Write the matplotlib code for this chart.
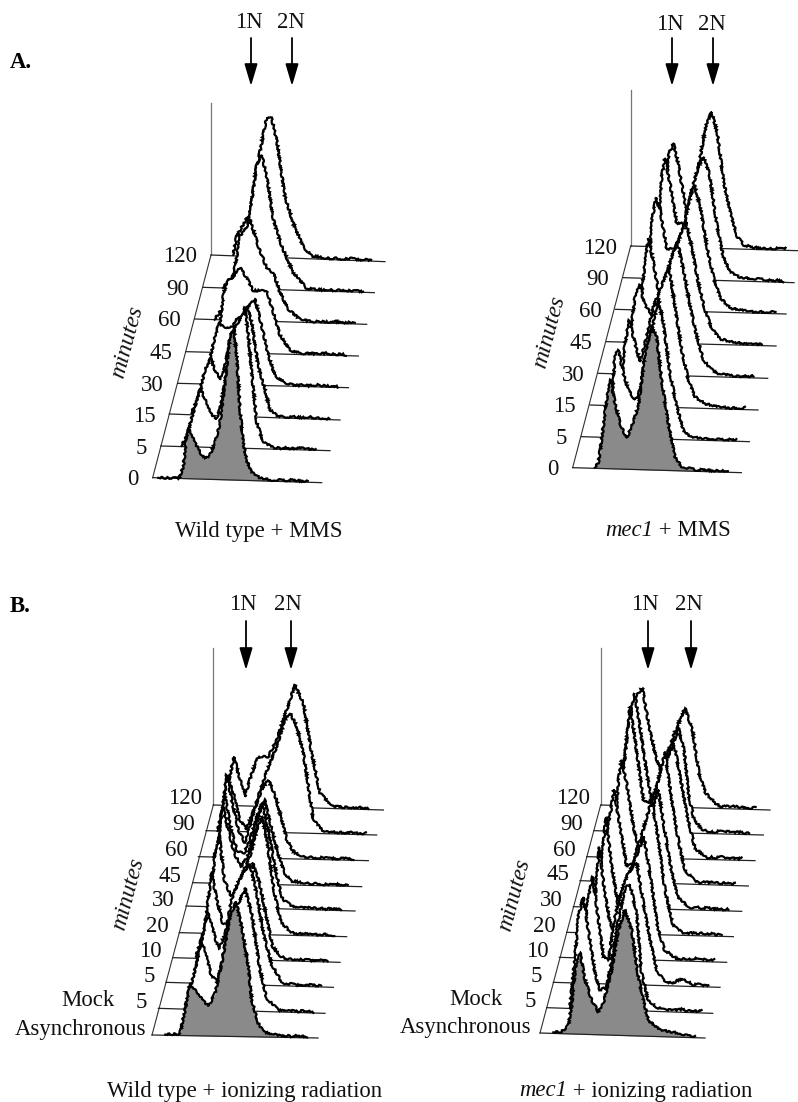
import matplotlib
matplotlib.use("Agg")
import numpy as np
import matplotlib.pyplot as plt

plt.rcParams['font.family'] = ['Liberation Serif', 'DejaVu Serif']

# ---------- data: channel / count for each histogram, front (first) to back (last) ----------
mms_minutes = ['0', '5', '15', '30', '45', '60', '90', '120']
ir_minutes = ['Asynchronous', '5', '5', '10', '20', '30', '45', '60', '90', '120']

wt_mms_ch = [
    [17,80,92,102,107,122,137,157,172,187,202,217,232,244,252,262,272,282,297,320,352],
    [63,78,103,120,133,148,166,178,193,208,223,243,253,263,273,288,308,338],
    [67,87,107,125,137,152,162,177,197,222,234,247,267,287,302,327],
    [77,92,112,125,137,157,182,202,232,252,272,292,322],
    [82,97,112,122,142,162,182,202,227,244,262,282,312],
    [60,100,116,136,151,166,191,216,236,256,281,316],
    [60,100,125,141,161,176,191,211,236,271,311],
    [67,77,117,142,167,182,197,222,247,277,302],
]
wt_mms_ct = [
    [0,1,36,127,152,118,88,59,75,110,171,291,432,452,373,212,112,60,25,10,4],
    [2,31,122,178,143,104,84,115,195,306,361,397,422,338,228,79,20,5],
    [5,55,136,172,137,108,128,200,290,300,331,281,152,82,23,4],
    [3,53,144,185,173,171,177,222,259,179,90,30,10],
    [3,49,170,215,225,256,226,188,189,184,124,56,12],
    [0,60,131,252,272,303,224,160,145,87,38,9],
    [0,50,150,227,373,403,339,210,131,52,7],
    [3,60,131,290,420,417,352,183,104,35,9],
]

mec1_mms_ch = [
    [67,77,87,102,114,127,142,162,177,197,217,237,252,267,287,307,327,372],
    [85,90,100,111,126,141,161,176,196,216,231,246,266,286,306,326,376],
    [90,100,105,118,130,150,170,190,237,255,275,295,315,345,390],
    [90,100,110,125,137,165,180,200,220,237,255,275,295,315,335,360,410],
    [95,100,110,125,137,155,175,195,215,237,255,275,295,315,340,380,430],
    [85,100,110,122,135,155,184,205,225,237,255,275,295,315,345,400],
    [90,105,115,125,140,160,185,205,225,240,258,280,300,320,350,420],
    [90,105,115,128,140,160,168,185,205,225,243,260,280,300,320,340,370,420],
]
mec1_mms_ct = [
    [2,16,87,208,267,197,137,93,129,189,349,430,400,270,141,42,13,4],
    [5,60,243,263,194,144,115,145,246,346,422,347,198,100,29,9,5],
    [5,138,188,258,208,134,210,300,422,302,173,85,34,14,5],
    [5,153,233,269,214,175,215,285,355,402,320,211,121,51,25,10,4],
    [5,65,198,313,258,158,160,231,307,367,292,183,103,49,17,8,3],
    [0,120,271,338,297,182,193,254,344,380,313,193,103,43,13,5],
    [0,100,306,362,287,167,168,269,339,370,320,171,71,27,11,7],
    [0,100,281,311,262,153,98,153,253,364,410,345,195,105,37,12,6,4],
]

wt_ir_ch = [
    [40,84,99,114,129,144,169,189,209,234,252,269,289,299,319,334,374],
    [80,105,130,140,160,180,190,215,240,260,280,305,325,355],
    [85,97,117,124,137,157,177,197,217,237,252,272,292,317,347],
    [70,95,117,130,150,170,195,220,240,260,280,300,325],
    [80,95,105,120,135,155,175,195,215,235,250,265,285,305,335],
    [70,80,95,110,125,145,165,185,210,230,250,270,290,320],
    [60,75,85,97,115,135,155,175,200,215,235,255,275,295],
    [45,60,75,85,100,120,140,165,190,210,230,250,265,285,315],
    [35,50,62,80,100,120,137,157,182,212,237,252,272,292,307,322,347],
    [30,45,62,75,95,115,135,165,190,220,245,270,295,320,345],
]
wt_ir_ct = [
    [2,5,77,157,137,117,88,128,218,359,405,330,210,110,41,16,7],
    [5,98,204,174,100,85,141,281,322,368,293,124,40,11],
    [5,90,171,216,174,105,146,256,307,344,362,275,156,62,13],
    [5,87,257,188,108,100,168,240,290,233,136,41,12],
    [0,120,221,292,162,112,143,195,244,325,355,266,127,38,10],
    [0,20,150,301,241,162,123,154,244,315,218,108,28,9],
    [0,30,190,261,162,95,93,143,226,256,175,96,37,12],
    [0,30,152,248,173,84,44,135,206,236,190,117,59,21,7],
    [0,70,164,124,38,8,46,107,182,258,339,360,320,240,141,42,12],
    [3,66,147,97,28,98,149,150,201,292,367,313,164,45,20],
]

mec1_ir_ch = [
    [40,65,85,95,105,120,135,155,175,190,215,235,255,275,295,315,325,360,420],
    [70,85,95,110,125,145,160,180,195,215,235,250,270,285,305,330],
    [85,100,118,130,150,165,185,205,225,250,270,290,310,330,355,385,415],
    [80,95,105,120,135,150,165,185,205,230,254,275,295,315,345],
    [75,90,105,118,135,155,170,190,210,230,255,275,295,320,350],
    [70,85,105,122,140,160,190,215,235,255,272,292,312,345],
    [90,105,115,125,140,160,180,195,215,235,255,275,295,315,345],
    [80,95,110,130,145,170,190,215,240,262,282,302,325,355],
    [70,85,105,122,140,160,175,195,215,235,253,270,285,300,325],
    [55,70,85,105,125,145,165,180,200,225,253,275,295,315,345],
]
mec1_ir_ct = [
    [3,6,25,85,188,245,164,104,69,95,195,316,377,317,178,88,48,20,12],
    [3,155,276,336,237,107,58,68,149,270,367,380,291,112,32,13],
    [5,230,320,231,81,72,203,283,335,367,247,138,47,17,7,23,9],
    [0,20,155,335,206,117,77,168,250,309,370,240,100,32,11],
    [0,20,220,350,201,81,82,163,254,315,405,285,135,27,8],
    [0,20,243,354,244,125,146,216,287,358,249,129,40,10],
    [0,20,305,366,296,167,88,128,238,309,395,250,131,41,10],
    [0,100,253,454,354,175,166,226,297,348,238,129,32,11],
    [0,150,325,416,298,167,87,138,208,259,315,250,110,41,12],
    [0,130,248,328,355,240,150,110,160,232,298,234,105,45,15],
]

tail_ch = [345,360,375,390,405,420,435,450,465,480,495]
tail_wt_mms = [4,3,5,3,4,6,4,3,4,2,1]
tail_mec1_mms = [5,7,4,6,5,3,5,4,6,3,2]
tail_wt_ir = [6,5,7,4,5,3,6,4,3,5,2]
tail_mec1_ir = [7,5,8,6,9,5,7,4,6,3,2]

# ---------- layout (z = 1/3 pixel units) ----------
panels = [
    dict(ch=wt_mms_ch, ct=wt_mms_ct, tail=tail_wt_mms, labels=mms_minutes, org=(130, 90),
         sx=[68,92,118,143,168,194,219,243], sy=[1163,1068,972,880,785,687,592,495],
         ex=[575,600,630,655,685,710,733,765], ey=[1178,1082,990,893,798,703,608,515],
         top=40, gap=14, gap0=14, ldy=2, minutes=(127,342)),
    dict(ch=mec1_mms_ch, ct=mec1_mms_ct, tail=tail_mec1_mms, labels=mms_minutes, org=(540, 90),
         sx=[98,124,150,175,200,226,250,272], sy=[1133,1040,945,850,755,658,563,468],
         ex=[604,628,654,683,708,738,762,772], ey=[1148,1055,960,865,768,672,578,482],
         top=0, gap=14, gap0=14, ldy=2, minutes=(549,332)),
    dict(ch=wt_ir_ch, ct=wt_ir_ct, tail=tail_wt_ir, labels=ir_minutes, org=(130, 640),
         sx=[66,85,108,128,148,168,188,205,228,250], sy=[1185,1105,1027,953,878,798,728,650,572,495],
         ex=[564,585,610,630,650,675,695,715,740,760], ey=[1194,1120,1042,967,890,813,740,662,585,510],
         top=25, gap=11, gap0=6, ldy=-6, minutes=(128,894)),
    dict(ch=mec1_ir_ch, ct=mec1_ir_ct, tail=tail_mec1_ir, labels=ir_minutes, org=(520, 640),
         sx=[60,80,100,118,140,160,180,200,222,242], sy=[1179,1103,1027,952,877,800,722,650,572,495],
         ex=[555,578,600,620,640,665,685,705,730,750], ey=[1194,1120,1042,967,890,814,738,662,585,510],
         top=25, gap=11, gap0=9, ldy=-6, minutes=(514,895)),
]

arrows = [(251, 38, 86, '1N', 249, 22), (292, 38, 86, '2N', 291, 22),
          (672, 38, 86, '1N', 670, 24), (713, 38, 86, '2N', 712, 24),
          (246, 621, 670, '1N', 243, 605), (291, 621, 670, '2N', 288, 605),
          (648, 621, 670, '1N', 645, 605), (691, 621, 670, '2N', 689, 605)]

FS = 16.4
TXT = '#111111'
fig = plt.figure(figsize=(7.98, 11.02), dpi=100)
ax = fig.add_axes([0, 0, 1, 1])
ax.set_xlim(0, 798)
ax.set_ylim(1102, 0)
ax.axis('off')

for p in panels:
    ox, oy = p['org']
    sx = ox + np.array(p['sx']) / 3
    sy = oy + np.array(p['sy']) / 3
    ex = ox + np.array(p['ex']) / 3
    ey = oy + np.array(p['ey']) / 3
    ax.plot([sx[-1], sx[-1]], [oy + p['top'] / 3, sy[-1]], color='#777777', lw=0.9, zorder=1)
    ax.plot([sx[0], sx[-1]], [sy[0], sy[-1]], color='#333333', lw=0.8, zorder=1)
    n = len(sx)
    for i in range(n - 1, -1, -1):
        ch = np.array(p['ch'][i], float)
        ct = np.array(p['ct'][i], float)
        tc = np.array(tail_ch, float)
        tv = np.array(p['tail'], float)
        length = (ex[i] - sx[i]) * 3
        keep = (tc > ch[-1]) & (tc < length * 0.94)
        ch = np.r_[ch, tc[keep]]
        ct = np.r_[ct, tv[keep]]
        slope = (ey[i] - sy[i]) / (ex[i] - sx[i])
        x = sx[i] + ch / 3
        base = sy[i] + slope * ch / 3
        y = base - ct / 3
        z = 10 + (n - i) * 3
        ax.fill_between(x, base, y, color='#8a8a8a' if i == 0 else 'white', lw=0, zorder=z)
        ax.plot([sx[i], ex[i]], [sy[i], ey[i]], color='#222222', lw=0.9, zorder=z + 1)
        line, = ax.plot(x, y, color='black', lw=1.6, zorder=z + 2, solid_joinstyle='miter')
        line.set_sketch_params(scale=0.9, length=5, randomness=6)
        gap = p['gap0'] if i == 0 else p['gap']
        ax.text(sx[i] - gap, sy[i] + p['ldy'], p['labels'][i], ha='right', va='center',
                fontsize=FS, color=TXT)
    if p['labels'] is ir_minutes:
        ax.text(sx[1] - p['gap'] - 33, sy[1] + p['ldy'] - 2, 'Mock', ha='right', va='center',
                fontsize=FS, color=TXT)
    ax.text(p['minutes'][0], p['minutes'][1], 'minutes', rotation=75, style='italic', ha='center',
            va='center', fontsize=FS + 0.6, color=TXT, rotation_mode='anchor')

for ax_x, y0, y1, lab, tx, ty in arrows:
    ax.annotate('', xy=(ax_x, y1), xytext=(ax_x, y0), zorder=60,
                arrowprops=dict(arrowstyle='-|>,head_length=1.35,head_width=0.4', color='black',
                                lw=1.3, shrinkA=0, shrinkB=0, mutation_scale=10))
    ax.text(tx, ty, lab, ha='center', va='center', fontsize=FS, color=TXT)

ax.text(10, 62, 'A.', fontweight='bold', ha='left', va='center', fontsize=FS)
ax.text(10, 607, 'B.', fontweight='bold', ha='left', va='center', fontsize=FS)
ax.text(259, 531, 'Wild type + MMS', ha='center', va='center', fontsize=FS, color=TXT)
ax.text(245, 1091, 'Wild type + ionizing radiation', ha='center', va='center', fontsize=FS, color=TXT)

def mixed(cx, cy, rest):
    a = ax.text(0, cy, 'mec1', style='italic', ha='left', va='center', fontsize=FS, color=TXT)
    b = ax.text(0, cy, rest, ha='left', va='center', fontsize=FS, color=TXT)
    r = fig.canvas.get_renderer()
    wa, wb = a.get_window_extent(r).width, b.get_window_extent(r).width
    a.set_x(cx - (wa + wb) / 2)
    b.set_x(cx - (wa + wb) / 2 + wa)

mixed(668, 531, ' + MMS')
mixed(636, 1091, ' + ionizing radiation')

fig.savefig('out.png', dpi=100, facecolor='white')
